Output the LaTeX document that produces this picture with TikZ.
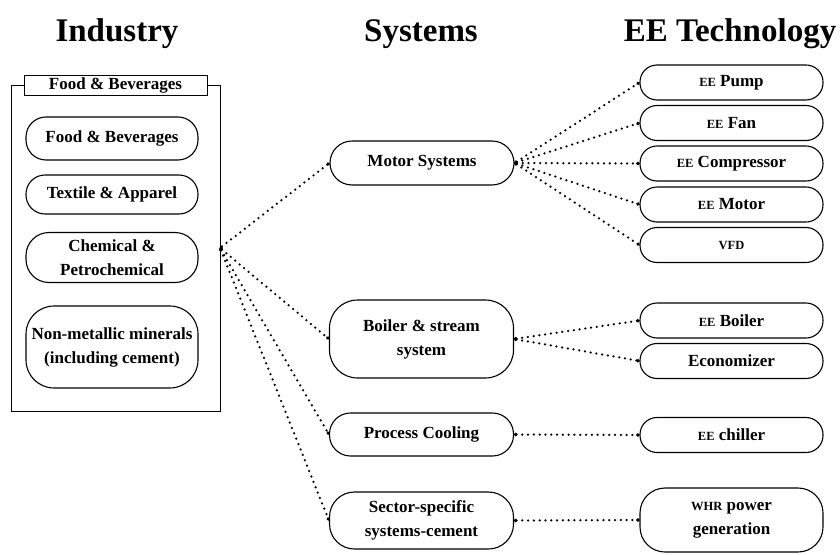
\documentclass[tikz,border=0pt]{standalone}
\usepackage{fontspec}
\setmainfont{Liberation Serif}
\usetikzlibrary{arrows.meta}
% faked small capitals for abbreviations such as EE, VFD, WHR
\newcommand\smcaps[1]{{\fontsize{12.5}{12.5}\selectfont #1}}
\begin{document}
\begin{tikzpicture}[x=1pt,y=-1pt,
  every node/.style={font=\bfseries\fontsize{17}{24}\selectfont, align=center, inner sep=0pt},
  title/.style={font=\bfseries\fontsize{33}{36}\selectfont, anchor=base},
  pill/.style={draw, line width=1.1pt, rounded corners=#1},
  lbox/.style={pill=#1, minimum width=172pt},
  sbox/.style={pill=#1, minimum width=184pt},
  tbox/.style={pill=17pt, minimum width=183pt, minimum height=35pt},
  conn/.style={line width=2.5pt, line cap=round, dash pattern=on 0pt off 5.8pt,
    {Circle[length=3.2pt]}-{Circle[length=3.2pt]}}]
\useasboundingbox (0,0) rectangle (840,554);

% column headings
\node[title] (hInd) at (117,41) {Industry};
\node[title] (hSys) at (421,41) {Systems};
\node[title] (hTec) at (730,41) {EE Technology};

% industry group frame with its caption
\node[draw, line width=1pt, minimum width=209pt, minimum height=326pt] (frame) at (115.5,248) {};
\node[draw, fill=white, line width=1pt, minimum width=183pt, minimum height=20pt] (cap) at (115.5,85) {Food \& Beverages};

% industries
\node[lbox=20pt, minimum height=43pt] (food) at (112,138.5) {Food \& Beverages};
\node[lbox=19pt, minimum height=39pt] (text) at (112,194.5) {Textile \& Apparel};
\node[lbox=23pt, minimum height=50pt] (chem) at (112,257.5) {Chemical \&\\Petrochemical};
\node[lbox=28pt, minimum height=82pt] (nonm) at (112,347) {Non-metallic minerals\\(including cement)};

% systems
\node[sbox=22pt, minimum height=44pt] (motor) at (422,163) {Motor Systems};
\node[sbox=28pt, minimum height=78pt] (boiler) at (421.5,339) {Boiler \& stream\\system};
\node[sbox=21pt, minimum height=43pt] (cool) at (421.5,434.5) {Process Cooling};
\node[sbox=25pt, minimum height=57pt] (sector) at (421.5,520.5) {Sector-specific\\systems-cement};

% technologies
\node[tbox] (pump) at (731.5,82.5) {\smcaps{EE} Pump};
\node[tbox] (fan) at (731.5,123) {\smcaps{EE} Fan};
\node[tbox] (comp) at (731.5,163.5) {\smcaps{EE} Compressor};
\node[tbox] (mot) at (731.5,204.5) {\smcaps{EE} Motor};
\node[tbox] (vfd) at (731.5,245) {\smcaps{VFD}};
\node[tbox] (eeb) at (731.5,320.5) {\smcaps{EE} Boiler};
\node[tbox] (eco) at (731.5,361) {Economizer};
\node[tbox] (chil) at (731.5,435) {\smcaps{EE} chiller};
\node[pill=25pt, minimum width=183pt, minimum height=64pt] (whr) at (731.5,520) {\smcaps{WHR} power\\generation};

% fan-out point on the frame edge
\coordinate (hub) at (220,248);

% industry to systems
\draw[conn] (hub) -- (motor.west);
\draw[conn] (hub) -- (boiler.west);
\draw[conn] (hub) -- (cool.west);
\draw[conn] (hub) -- (sector.west);

% systems to technologies
\foreach \t in {pump,fan,comp,mot,vfd}
  \draw[conn] (motor.east) -- (\t.west);
\draw[conn] (boiler.east) -- (eeb.west);
\draw[conn] (boiler.east) -- (eco.west);
\draw[conn] (cool.east) -- (chil.west);
\draw[conn] (sector.east) -- (whr.west);
\end{tikzpicture}
\end{document}
